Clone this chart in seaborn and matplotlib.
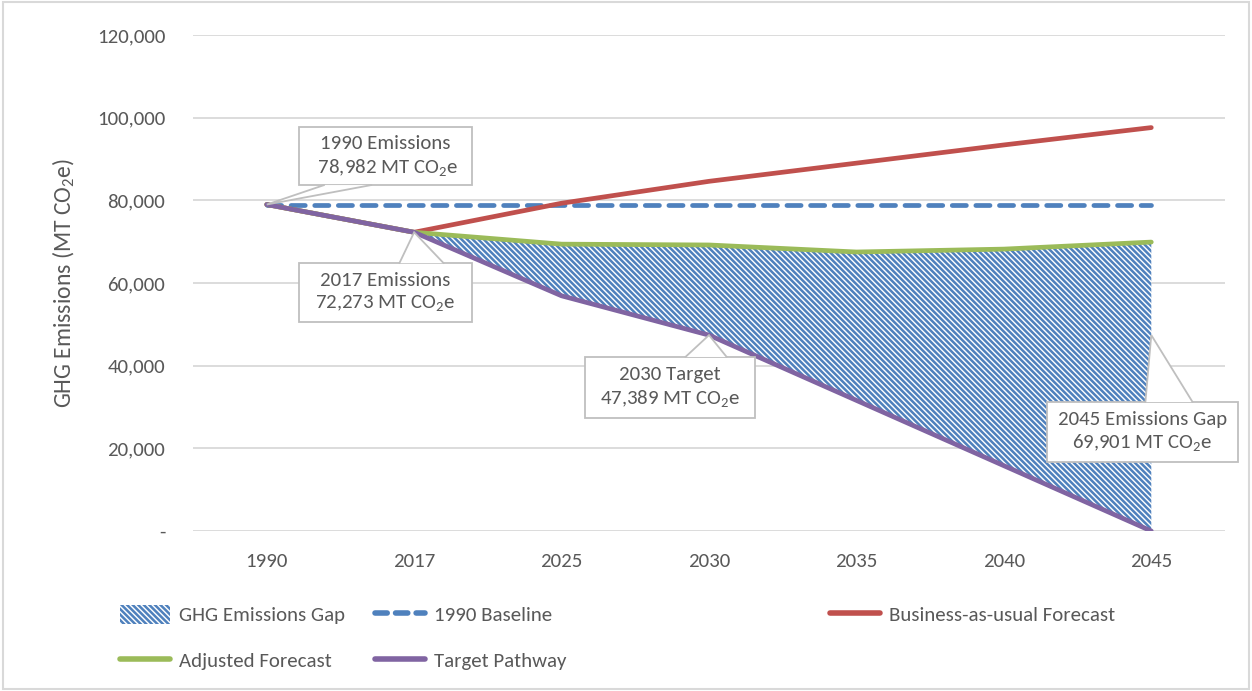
import seaborn as sns
import pandas as pd
import matplotlib.pyplot as plt
import matplotlib.patches as patches
from matplotlib.lines import Line2D
from matplotlib.ticker import FuncFormatter

years = ['1990', '2017', '2025', '2030', '2035', '2040', '2045']
baseline_1990 = [78982, 78982, 78982, 78982, 78982, 78982, 78982]
bau_forecast = [78982, 72273, 79300, 84600, 89000, 93400, 97600]
adjusted_forecast = [78982, 72273, 69400, 69200, 67500, 68200, 69901]
target_pathway = [78982, 72273, 56900, 47389, 31600, 15800, 0]

txt_color = '#595959'
grid_color = '#d9d9d9'
box_color = '#bfbfbf'
c_base = '#4f81bd'
c_bau = '#c0504d'
c_adj = '#9bbb59'
c_tgt = '#8064a2'
hatch = '\\' * 6

sns.set_theme(style='white')
plt.rcParams['font.family'] = ['Carlito', 'Lato', 'DejaVu Sans']
plt.rcParams['mathtext.default'] = 'regular'
plt.rcParams['hatch.color'] = c_base
plt.rcParams['hatch.linewidth'] = 1.8

df = pd.DataFrame({
    'Year': years,
    'idx': range(len(years)),
    '1990 Baseline': baseline_1990,
    'Business-as-usual Forecast': bau_forecast,
    'Adjusted Forecast': adjusted_forecast,
    'Target Pathway': target_pathway,
})

fig = plt.figure(figsize=(12.52, 6.91), dpi=100)
ax = fig.add_axes([193 / 1252, 1 - 531 / 691, (1225 - 193) / 1252, (531 - 35) / 691])

# emissions gap between adjusted forecast and target (from 2017 on)
gap = df[df['idx'] >= 1]
ax.fill_between(gap['idx'], gap['Target Pathway'], gap['Adjusted Forecast'],
                facecolor='white', edgecolor=c_base, hatch=hatch, linewidth=0, zorder=2)

sns.lineplot(data=df, x='idx', y='1990 Baseline', ax=ax, color=c_base, linewidth=3.4,
             linestyle=(0, (3, 2)), dash_capstyle='round', zorder=3)
sns.lineplot(data=df, x='idx', y='Business-as-usual Forecast', ax=ax, color=c_bau,
             linewidth=3.4, zorder=4, solid_capstyle='round')
sns.lineplot(data=df, x='idx', y='Adjusted Forecast', ax=ax, color=c_adj,
             linewidth=3.4, zorder=5, solid_capstyle='round')
sns.lineplot(data=df, x='idx', y='Target Pathway', ax=ax, color=c_tgt,
             linewidth=3.4, zorder=6, solid_capstyle='round')

ax.set_xlim(-0.5, 6.5)
ax.set_ylim(0, 120000)
ax.set_xticks(range(len(years)))
ax.set_xticklabels(years)
ax.set_yticks(range(0, 120001, 20000))
ax.yaxis.set_major_formatter(FuncFormatter(lambda v, p: '-' if v == 0 else f'{int(v):,}'))
ax.tick_params(axis='both', colors=txt_color, labelsize=15, length=0)
ax.tick_params(axis='y', pad=20)
ax.tick_params(axis='x', pad=16)
ax.grid(axis='y', color=grid_color, linewidth=1.3, zorder=0)
ax.set_axisbelow(True)
for s in ax.spines.values():
    s.set_visible(False)
ax.set_xlabel('')
ax.set_ylabel('GHG Emissions (MT CO$_2$e)', color=txt_color, fontsize=17, labelpad=14)

# callouts: text, box (x0, x1, y0, y1), wedge base (xa, xb, y) and tip (x, y)
callouts = [
    ('1990 Emissions\n 78,982 MT CO$_2$e', (0.22, 1.39, 83700, 97700), (0.39, 0.71, 83700), (0, 78982)),
    ('2017 Emissions\n72,273 MT CO$_2$e', (0.22, 1.39, 50600, 64800), (0.90, 1.20, 64800), (1, 72273)),
    ('2030 Target\n47,389 MT CO$_2$e', (2.16, 3.31, 27300, 42100), (2.84, 3.12, 42100), (3, 47389)),
    ('2045 Emissions Gap\n69,901 MT CO$_2$e', (5.29, 6.59, 16700, 31200), (5.96, 6.28, 31200), (6, 47400)),
]
for label, (x0, x1, y0, y1), (xa, xb, yb), tip in callouts:
    ax.add_patch(patches.Rectangle((x0, y0), x1 - x0, y1 - y0, fc='white', ec=box_color,
                                   lw=1.3, zorder=10, clip_on=False))
    ax.add_patch(patches.Polygon([(xa, yb), tip, (xb, yb)], closed=True, fc='white', ec='none',
                                 zorder=11, clip_on=False))
    ax.plot([xa, tip[0], xb], [yb, tip[1], yb], color=box_color, lw=1.3, zorder=12,
            clip_on=False, solid_joinstyle='miter')
    ax.text((x0 + x1) / 2, (y0 + y1) / 2, label, ha='center', va='center', fontsize=15,
            color=txt_color, linespacing=1.3, zorder=13)

# legend, three columns placed like the original
h_gap = patches.Patch(facecolor='white', edgecolor=c_base, hatch=hatch, linewidth=0)
h_adj = Line2D([], [], color=c_adj, linewidth=4, solid_capstyle='round')
h_base = Line2D([], [], color=c_base, linewidth=4, linestyle=(0, (2.2, 1.5)), dash_capstyle='round')
h_tgt = Line2D([], [], color=c_tgt, linewidth=4, solid_capstyle='round')
h_bau = Line2D([], [], color=c_bau, linewidth=4, solid_capstyle='round')
columns = [
    ([h_gap, h_adj], ['GHG Emissions Gap', 'Adjusted Forecast'], 120),
    ([h_base, h_tgt], ['1990 Baseline', 'Target Pathway'], 375),
    ([h_bau], ['Business-as-usual Forecast'], 830),
]
for hs, ls, x0 in columns:
    fig.legend(hs, ls, loc='upper left', bbox_to_anchor=(x0 / 1252, 1 - 605 / 691),
               frameon=False, fontsize=15, labelcolor=txt_color, handlelength=2.4,
               handleheight=1.0, handletextpad=0.45, labelspacing=1.25, borderpad=0,
               borderaxespad=0)

fig.patches.append(patches.Rectangle((0.002, 0.003), 0.996, 0.994, transform=fig.transFigure,
                                     fill=False, edgecolor=grid_color, linewidth=1.5))

fig.savefig('out.png', dpi=100)
